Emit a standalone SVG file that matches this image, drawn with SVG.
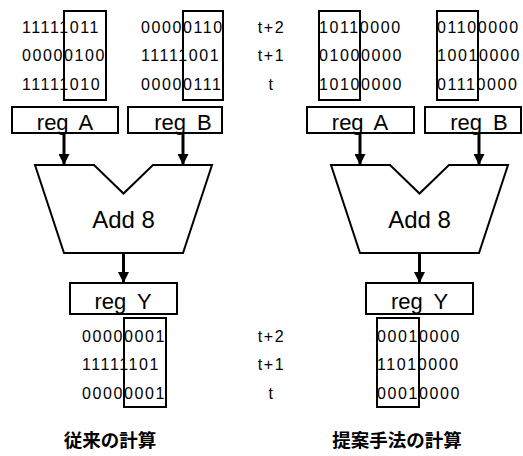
<svg xmlns="http://www.w3.org/2000/svg" width="523" height="456" viewBox="0 0 523 456">
<style>
.bits{font-family:"Liberation Sans",Arial,sans-serif;font-size:16px;letter-spacing:1.6px;fill:#000}
.tl{font-family:"Liberation Sans",Arial,sans-serif;font-size:16px;letter-spacing:1.6px;fill:#000;text-anchor:middle}
.reg{font-family:"Liberation Sans",Arial,sans-serif;font-size:22px;word-spacing:5px;fill:#000;text-anchor:middle}
.add{font-family:"Liberation Sans",Arial,sans-serif;font-size:24px;fill:#000;text-anchor:middle}
.cap{font-family:"Liberation Sans","Noto Sans CJK JP",sans-serif;font-size:18.5px;font-weight:bold;fill:#000;text-anchor:middle}
.box{fill:none;stroke:#000;stroke-width:2}
.rbox{fill:#fff;stroke:#000;stroke-width:2}
.conn{stroke:#000;stroke-width:3;fill:none}
</style>
<defs>
<marker id="ah" viewBox="0 0 10 10" refX="10" refY="5" markerWidth="11" markerHeight="11" markerUnits="userSpaceOnUse" orient="auto"><path d="M0,0 L10,5 L0,10 Z" fill="#000"/></marker>
</defs>
<rect width="523" height="456" fill="#fff"/>

<g id="connectors">
<line class="conn" x1="64" y1="133" x2="64" y2="165" marker-end="url(#ah)"/>
<line class="conn" x1="183" y1="133" x2="183" y2="165" marker-end="url(#ah)"/>
<line class="conn" x1="123.5" y1="253" x2="123.5" y2="283" marker-end="url(#ah)"/>
<line class="conn" x1="360" y1="133" x2="360" y2="165" marker-end="url(#ah)"/>
<line class="conn" x1="479" y1="133" x2="479" y2="165" marker-end="url(#ah)"/>
<line class="conn" x1="419.5" y1="253" x2="419.5" y2="283" marker-end="url(#ah)"/>
</g>

<g id="dataA-left">
<text class="bits" x="22" y="32.5">11111011</text>
<text class="bits" x="22" y="61">00000100</text>
<text class="bits" x="22" y="89.5">11111010</text>
<rect class="box" x="64" y="11" width="42" height="89"/>
</g>
<g id="dataB-left">
<text class="bits" x="141" y="32.5">00000110</text>
<text class="bits" x="141" y="61">11111001</text>
<text class="bits" x="141" y="89.5">00000111</text>
<rect class="box" x="183" y="11" width="40" height="89"/>
</g>
<g id="time-top">
<text class="tl" x="271.5" y="32.5">t+2</text>
<text class="tl" x="271.5" y="61">t+1</text>
<text class="tl" x="271.5" y="89.5">t</text>
</g>
<g id="regA-left">
<rect class="rbox" x="12" y="107" width="106" height="26"/>
<text class="reg" x="65" y="130">reg A</text>
</g>
<g id="regB-left">
<rect class="rbox" x="128" y="107" width="94" height="26"/>
<text class="reg" x="183" y="130">reg B</text>
</g>
<g id="adder-left">
<polygon class="box" points="35,165 94,165 123.5,193.5 153,165 212,165 183,253 64,253"/>
<text class="add" x="123.5" y="228">Add 8</text>
</g>
<g id="regY-left">
<rect class="rbox" x="70" y="283" width="107" height="31"/>
<text class="reg" x="123" y="308.5">reg Y</text>
</g>
<g id="dataY-left">
<text class="bits" x="82" y="341.5">00000001</text>
<text class="bits" x="82" y="370">11111101</text>
<text class="bits" x="82" y="398.5">00000001</text>
<rect class="box" x="124" y="318" width="42" height="89"/>
</g>
<g id="time-bottom">
<text class="tl" x="271.5" y="341.5">t+2</text>
<text class="tl" x="271.5" y="370">t+1</text>
<text class="tl" x="271.5" y="398.5">t</text>
</g>
<g id="caption-left">
<text class="cap" x="110" y="447">従来の計算</text>
</g>

<g id="dataA-right">
<text class="bits" x="319" y="32.5">10110000</text>
<text class="bits" x="319" y="61">01000000</text>
<text class="bits" x="319" y="89.5">10100000</text>
<rect class="box" x="319" y="11" width="41" height="89"/>
</g>
<g id="dataB-right">
<text class="bits" x="437" y="32.5">01100000</text>
<text class="bits" x="437" y="61">10010000</text>
<text class="bits" x="437" y="89.5">01110000</text>
<rect class="box" x="437" y="11" width="41" height="89"/>
</g>
<g id="regA-right">
<rect class="rbox" x="307" y="107" width="107" height="26"/>
<text class="reg" x="360" y="130">reg A</text>
</g>
<g id="regB-right">
<rect class="rbox" x="425" y="107" width="96" height="26"/>
<text class="reg" x="479" y="130">reg B</text>
</g>
<g id="adder-right">
<polygon class="box" points="331,165 390,165 419.5,193.5 449,165 508,165 479,253 360,253"/>
<text class="add" x="419.5" y="228">Add 8</text>
</g>
<g id="regY-right">
<rect class="rbox" x="366" y="283" width="107" height="31"/>
<text class="reg" x="419.5" y="308.5">reg Y</text>
</g>
<g id="dataY-right">
<text class="bits" x="377" y="341.5">00010000</text>
<text class="bits" x="377" y="370">11010000</text>
<text class="bits" x="377" y="398.5">00010000</text>
<rect class="box" x="377" y="318" width="42" height="89"/>
</g>
<g id="caption-right">
<text class="cap" x="397" y="447">提案手法の計算</text>
</g>
</svg>
